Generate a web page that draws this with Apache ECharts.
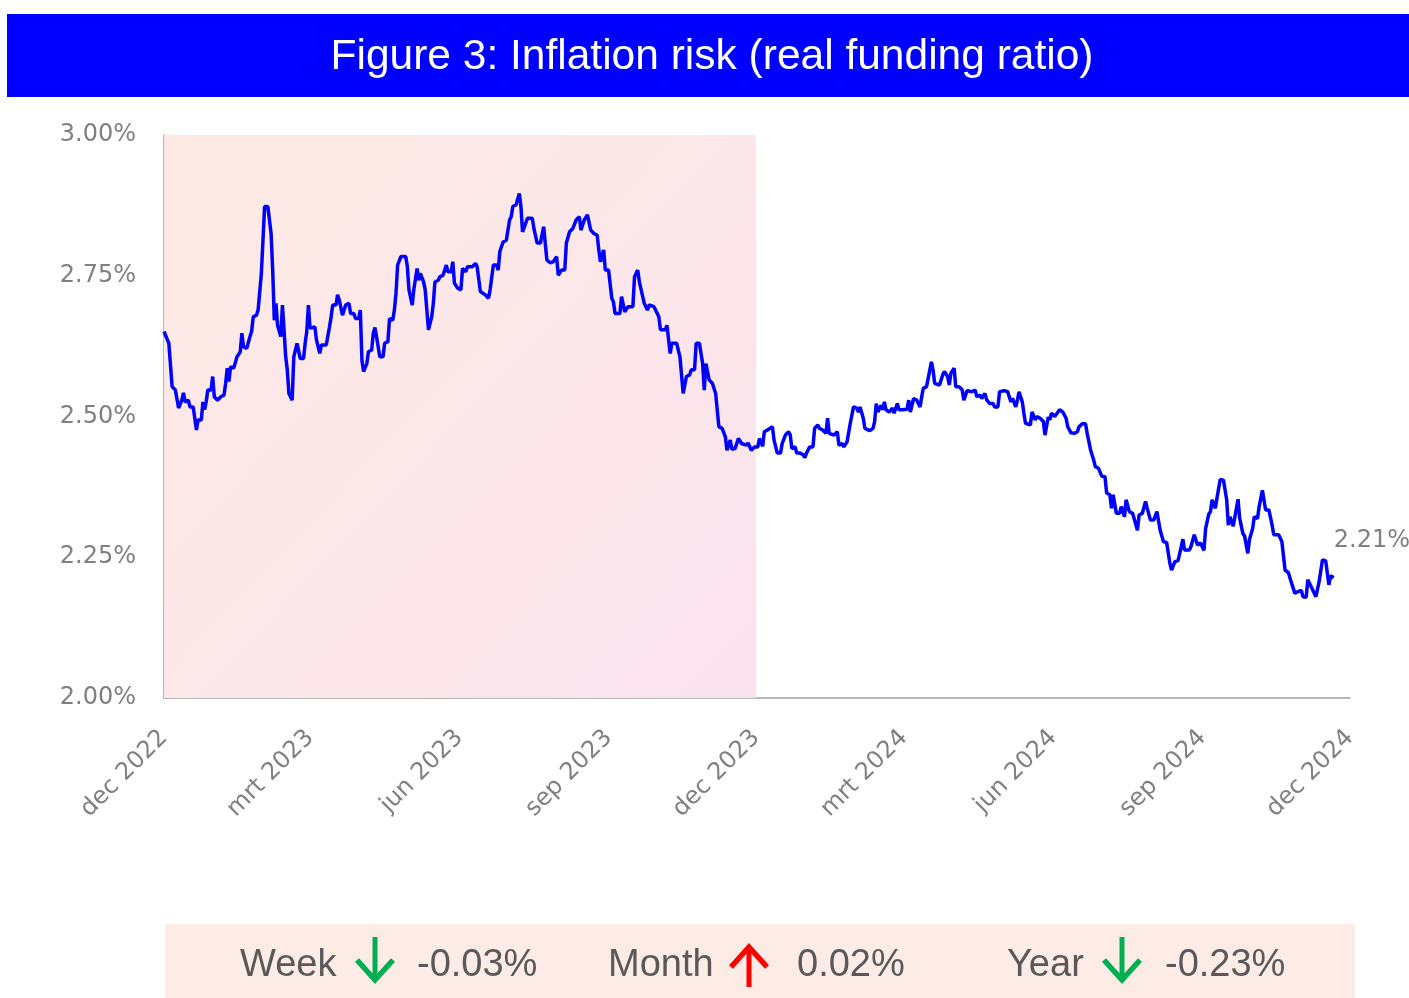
<!DOCTYPE html>
<html>
<head>
<meta charset="utf-8">
<script src="https://cdn.jsdelivr.net/npm/echarts@6.0.0/dist/echarts.min.js"></script>
<style>
html,body{margin:0;padding:0;background:#fff;}
#chart{width:1409px;height:998px;}
</style>
</head>
<body>
<div id="chart"></div>
<script>
// ---- data ----
const titleText = 'Figure 3: Inflation risk (real funding ratio)';
const startDate = '2022-12-01';
// days since startDate
const dayOffsets = [0,3,4,5,7,8,9,11,12,13,15,16,18,20,21,23,24,25,26,27,29,30,31,33,35,37,38,39,40,41,43,44,45,47,48,49,51,53,54,55,57,58,60,61,62,64,66,67,68,69,70,71,72,73,74,75,76,77,78,79,80,82,83,84,86,87,88,89,90,93,94,96,97,100,102,103,104,106,107,108,109,110,112,114,115,117,118,120,121,122,123,125,126,128,129,130,131,133,135,136,138,139,141,142,143,144,146,149,150,151,153,154,155,156,157,158,160,161,162,163,165,166,167,169,170,172,174,175,177,178,179,181,
183,184,186,187,190,192,193,195,198,200,201,203,205,206,207,208,209,211,213,214,215,217,219,220,221,222,224,227,228,230,232,234,236,238,240,242,243,245,247,248,250,252,254,256,257,259,261,263,265,267,268,269,271,272,274,276,277,278,281,282,284,286,289,290,292,293,294,296,298,299,302,305,306,309,310,312,313,316,318,320,322,324,325,327,328,330,332,333,334,336,338,340,342,344,346,347,349,350,352,354,356,359,360,362,364,366,
367,369,370,372,375,376,378,380,381,383,385,386,387,389,390,392,394,395,396,398,400,401,403,404,406,408,409,410,413,415,416,418,419,421,423,425,427,428,429,431,432,435,437,438,439,440,442,443,444,445,447,449,450,452,453,455,456,458,459,460,462,464,466,467,468,470,471,473,474,475,478,480,481,483,484,485,487,488,490,492,493,495,498,500,501,503,504,506,507,509,511,512,514,515,518,520,522,523,525,526,527,529,530,531,534,535,537,538,540,542,543,545,546,547,549,551,552,554,556,557,559,561,563,
564,566,568,569,571,572,573,574,576,578,580,581,583,584,585,587,589,590,592,593,595,597,600,601,603,605,606,608,610,612,614,616,618,620,621,623,625,627,628,629,632,633,635,637,639,641,642,644,645,646,648,649,651,653,655,656,657,659,660,662,663,665,666,668,669,671,672,674,675,677,679,681,683,684,687,689,691,693,695,697,699,701,702,704,705,707,708,710,712,714,716,718,719,721];
// real funding ratio inflation risk, %
const riskValues = [2.651,2.630,2.630,2.553,2.547,2.547,2.515,2.529,2.542,2.526,2.529,2.517,2.517,2.476,2.494,2.494,2.526,2.512,2.526,2.547,2.547,2.571,2.535,2.529,2.535,2.538,2.559,2.586,2.562,2.588,2.586,2.586,2.606,2.615,2.648,2.624,2.621,2.642,2.651,2.677,2.680,2.689,2.754,2.813,2.873,2.873,2.825,2.760,2.671,2.701,2.662,2.662,2.642,2.698,2.654,2.606,2.583,2.541,2.541,2.529,2.606,2.630,2.633,2.603,2.603,2.630,2.651,2.698,2.657,2.659,2.636,2.612,2.627,2.627,2.659,2.677,2.698,2.698,2.716,2.707,2.710,2.680,2.698,2.701,2.683,2.683,2.674,2.674,2.689,2.600,2.580,2.594,2.615,2.618,2.648,2.658,2.642,2.606,2.606,2.630,2.633,2.674,2.671,2.689,2.719,2.769,2.784,2.784,2.766,2.725,2.698,2.726,2.726,2.763,2.742,2.754,2.739,2.725,2.725,2.654,2.677,2.701,2.739,2.742,2.748,2.751,2.769,2.757,2.757,2.775,2.737,2.728,
2.725,2.763,2.757,2.766,2.766,2.772,2.766,2.722,2.716,2.710,2.725,2.769,2.769,2.760,2.793,2.796,2.810,2.813,2.849,2.855,2.873,2.876,2.896,2.873,2.828,2.831,2.852,2.852,2.834,2.808,2.808,2.837,2.778,2.773,2.775,2.784,2.751,2.760,2.760,2.808,2.828,2.834,2.849,2.855,2.831,2.849,2.858,2.831,2.825,2.822,2.796,2.775,2.796,2.760,2.760,2.710,2.704,2.683,2.683,2.713,2.686,2.695,2.695,2.748,2.760,2.739,2.737,2.701,2.689,2.698,2.695,2.677,2.654,2.654,2.662,2.612,2.630,2.630,2.606,2.541,2.571,2.574,2.583,2.583,2.630,2.630,2.594,2.547,2.594,2.565,2.559,2.541,2.482,2.479,2.464,2.440,2.458,2.442,2.443,2.461,2.452,2.449,2.453,2.440,2.446,2.446,
2.461,2.447,2.473,2.476,2.482,2.458,2.435,2.435,2.452,2.467,2.473,2.467,2.443,2.446,2.435,2.435,2.432,2.427,2.435,2.446,2.446,2.479,2.485,2.479,2.476,2.470,2.497,2.470,2.467,2.473,2.449,2.452,2.446,2.455,2.488,2.517,2.515,2.508,2.517,2.497,2.479,2.475,2.479,2.491,2.523,2.508,2.520,2.512,2.526,2.512,2.508,2.515,2.506,2.523,2.512,2.512,2.510,2.513,2.529,2.508,2.532,2.529,2.517,2.535,2.550,2.553,2.553,2.597,2.583,2.559,2.556,2.574,2.580,2.571,2.556,2.577,2.586,2.553,2.553,2.547,2.529,2.546,2.544,2.547,2.535,2.538,2.532,2.541,2.530,2.523,2.523,2.517,2.517,2.544,2.546,2.544,2.526,2.532,2.517,2.529,2.544,2.526,2.506,2.488,2.485,2.508,2.494,2.500,2.497,2.491,2.467,2.499,2.494,2.506,2.500,2.508,2.512,2.508,2.497,2.482,2.471,2.470,2.473,
2.482,2.487,2.487,2.470,2.442,2.432,2.423,2.411,2.408,2.394,2.393,2.364,2.361,2.337,2.361,2.328,2.328,2.340,2.322,2.352,2.331,2.328,2.298,2.325,2.328,2.349,2.337,2.316,2.316,2.331,2.298,2.278,2.276,2.239,2.227,2.242,2.244,2.269,2.282,2.263,2.263,2.269,2.290,2.272,2.275,2.262,2.301,2.327,2.331,2.352,2.337,2.355,2.388,2.387,2.352,2.307,2.322,2.305,2.305,2.353,2.319,2.292,2.288,2.257,2.281,2.301,2.322,2.319,2.340,2.369,2.334,2.334,2.307,2.290,2.290,2.278,2.227,2.223,2.204,2.186,2.189,2.191,2.180,2.179,2.210,2.198,2.195,2.180,2.207,2.245,2.244,2.201,2.217,2.214];

const tickDates = ['2022-12-01','2023-03-01','2023-06-01','2023-09-01','2023-12-01','2024-03-01','2024-06-01','2024-09-01','2024-12-01'];
const tickLabels = ['dec 2022','mrt 2023','jun 2023','sep 2023','dec 2023','mrt 2024','jun 2024','sep 2024','dec 2024'];
const yTicks = [2.00, 2.25, 2.50, 2.75, 3.00];
const shadeRange = ['2022-12-01', '2023-12-01'];

const changeLabels = ['Week', 'Month', 'Year'];
const changeValues = ['-0.03%', '0.02%', '-0.23%'];
const changeDirections = ['down', 'up', 'down'];

// ---- build ----
function ts(s){ const p = s.split('-').map(Number); return Date.UTC(p[0], p[1]-1, p[2]); }
const t0 = ts(startDate);
function dayOf(s){ return Math.round((ts(s) - t0) / 86400000); }
const seriesData = dayOffsets.map((d, i) => [d, riskValues[i]]);
const tickDays = tickDates.map(dayOf);

const chart = echarts.init(document.getElementById('chart'), null, {renderer: 'canvas'});
const axisFont = 'DejaVu Sans';
const gray = '#808080';
const footFont = '38px "Liberation Sans", Arial, sans-serif';

// footer graphics
const footerX = [240, 608, 1007];
const arrowX = [375, 749, 1122];
const valueX = [417, 797, 1165];
const footerY = 966;
const footerEls = [{
  type: 'rect', shape: {x: 165, y: 924, width: 1190, height: 74},
  style: {fill: '#fdece6'}, silent: true
}];
changeLabels.forEach((lab, i) => {
  footerEls.push({type: 'text', x: footerX[i], y: footerY, style: {
    text: lab, font: footFont, fill: '#595959',
    textAlign: 'left', textVerticalAlign: 'middle'}});
  footerEls.push({type: 'text', x: valueX[i], y: footerY, style: {
    text: changeValues[i], font: footFont, fill: '#595959',
    textAlign: 'left', textVerticalAlign: 'middle'}});
  const cx = arrowX[i];
  const col = changeDirections[i] === 'up' ? '#ff0000' : '#00b050';
  if (changeDirections[i] === 'down') {
    footerEls.push({type: 'polyline', shape: {points: [[cx, 937], [cx, 979]]}, style: {stroke: col, lineWidth: 5}});
    footerEls.push({type: 'polyline', shape: {points: [[cx - 18, 960], [cx, 980], [cx + 18, 960]]}, style: {stroke: col, lineWidth: 5.5, lineJoin: 'miter', fill: null}});
  } else {
    footerEls.push({type: 'polyline', shape: {points: [[cx, 987], [cx, 948]]}, style: {stroke: col, lineWidth: 5}});
    footerEls.push({type: 'polyline', shape: {points: [[cx - 18, 967], [cx, 947], [cx + 18, 967]]}, style: {stroke: col, lineWidth: 5.5, lineJoin: 'miter', fill: null}});
  }
});

const option = {
  animation: false,
  backgroundColor: '#ffffff',
  grid: {left: 164, right: 59, top: 135, bottom: 300, containLabel: false},
  graphic: [
    {type: 'rect', shape: {x: 7, y: 14, width: 1402, height: 83}, style: {fill: '#0000ff'}, silent: true},
    {type: 'text', x: 712, y: 57, style: {text: titleText, font: '42.5px "Liberation Sans", Arial, sans-serif',
      fill: '#ffffff', textAlign: 'center', textVerticalAlign: 'middle'}},
    ...footerEls
  ],
  xAxis: {
    type: 'value',
    min: tickDays[0],
    max: tickDays[tickDays.length - 1],
    axisLine: {show: true, lineStyle: {color: '#a0a0a0', width: 1.5}},
    axisTick: {show: false},
    splitLine: {show: false},
    axisLabel: {
      customValues: tickDays,
      rotate: 45,
      margin: 36,
      color: gray,
      fontFamily: axisFont,
      fontSize: 24,
      formatter: function (v) { const i = tickDays.indexOf(v); return i >= 0 ? tickLabels[i] : ''; }
    }
  },
  yAxis: {
    type: 'value',
    min: yTicks[0],
    max: yTicks[yTicks.length - 1],
    interval: 0.25,
    axisLine: {show: true, lineStyle: {color: '#a0a0a0', width: 1.5}},
    axisTick: {show: false},
    splitLine: {show: false},
    axisLabel: {
      margin: 28, color: gray, fontFamily: axisFont, fontSize: 24,
      formatter: v => v.toFixed(2) + '%'
    }
  },
  series: [{
    type: 'line',
    data: seriesData,
    showSymbol: false,
    symbol: 'none',
    lineStyle: {color: '#0000ff', width: 3.5},
    itemStyle: {color: '#0000ff'},
    z: 5,
    endLabel: {
      show: true,
      formatter: p => p.value[1].toFixed(2) + '%',
      color: gray, fontFamily: axisFont, fontSize: 24,
      offset: [-8, -37]
    },
    markArea: {
      silent: true,
      itemStyle: {
        color: new echarts.graphic.LinearGradient(0, 0, 1, 1, [
          {offset: 0, color: '#fdeae3'},
          {offset: 1, color: '#fae3ef'}
        ])
      },
      data: [[{xAxis: dayOf(shadeRange[0]), yAxis: yTicks[yTicks.length - 1]}, {xAxis: dayOf(shadeRange[1]), yAxis: yTicks[0]}]]
    }
  }]
};
chart.setOption(option);
</script>
</body>
</html>
